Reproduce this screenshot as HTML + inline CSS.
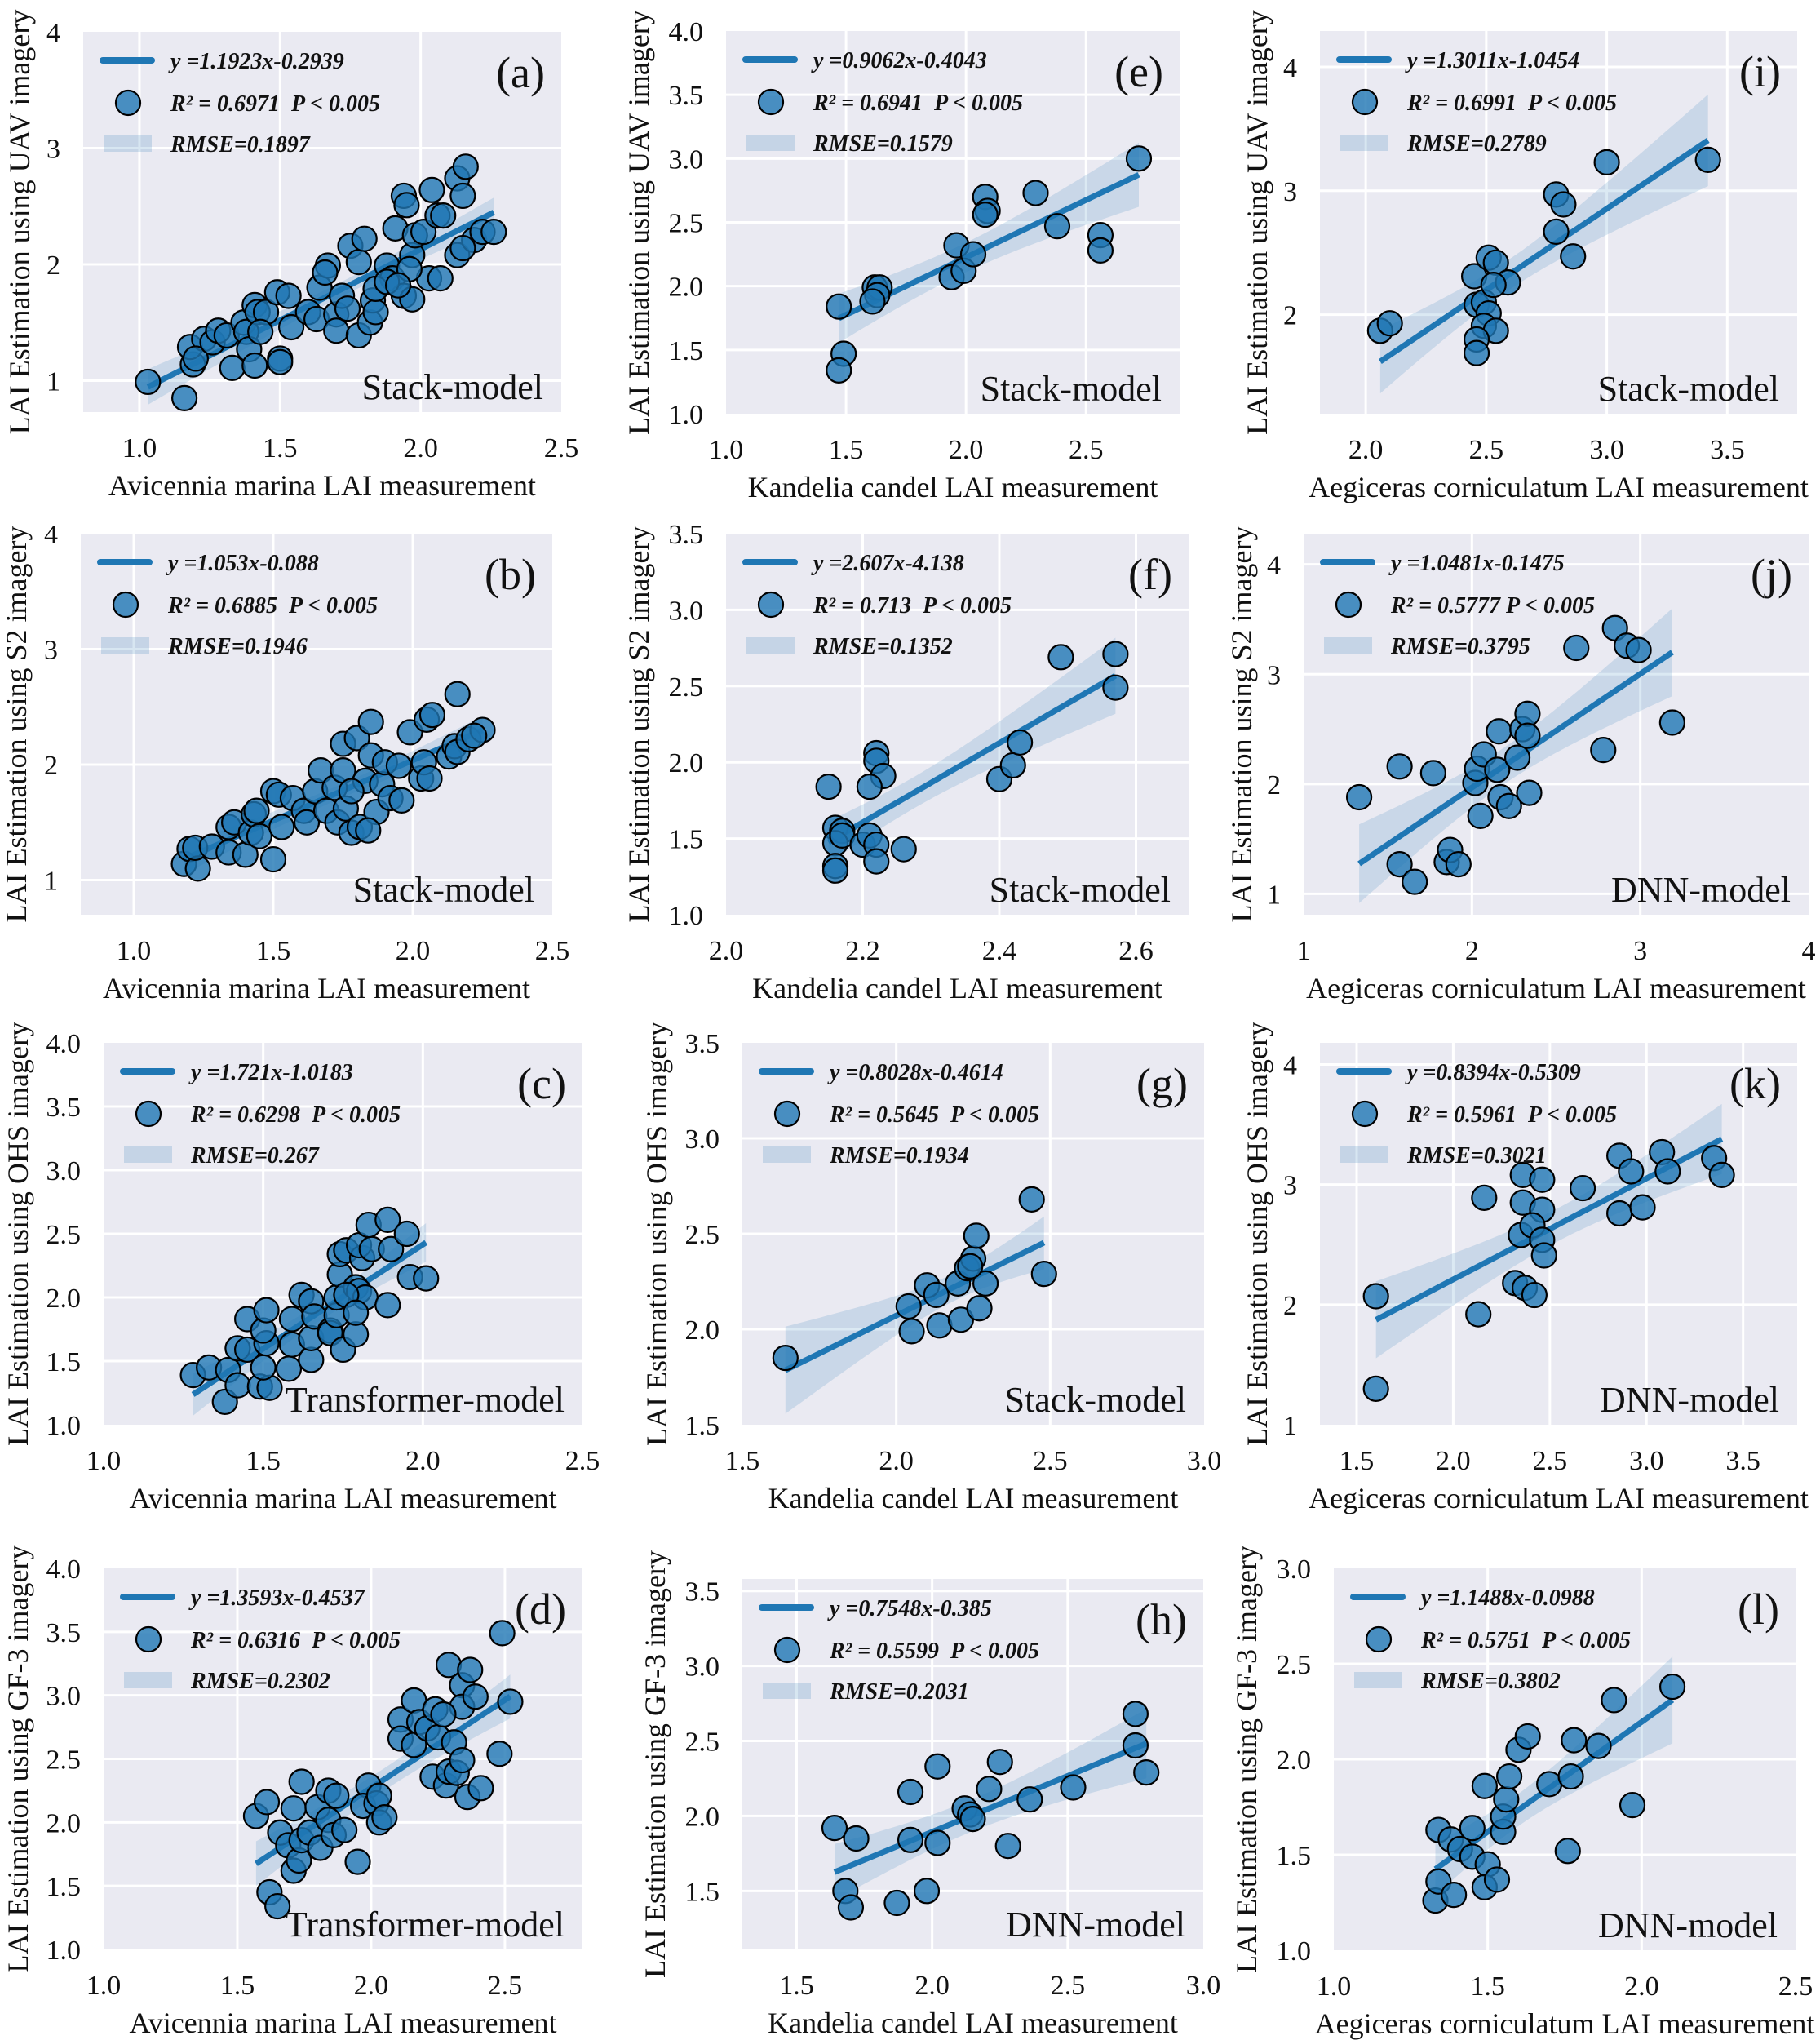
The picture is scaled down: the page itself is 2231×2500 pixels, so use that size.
<!DOCTYPE html>
<html><head><meta charset="utf-8"><title>LAI scatter panels</title>
<style>
html,body{margin:0;padding:0;background:#fff;}
svg{display:block;}
text{font-family:"Liberation Serif","Times New Roman",serif;fill:#111;}
.leg{font-style:italic;font-weight:bold;font-size:28px;white-space:pre;}
</style></head>
<body>
<svg id="chart" xmlns="http://www.w3.org/2000/svg" width="2231" height="2500" viewBox="0 0 2231 2500"></svg>
<script>
// ---- data (measured x, estimated y) ----
const a_x=[1.03,1.16,1.19,1.18,1.23,1.20,1.26,1.28,1.31,1.33,1.37,1.38,1.39,1.41,1.41,1.42,1.45,1.43,1.50,1.50,1.49,1.53,1.54,1.60,1.64,1.63,1.67,1.66,1.70,1.70,1.72,1.74,1.75,1.78,1.78,1.80,1.82,1.83,1.84,1.88,1.90,1.91,1.94,1.95,1.94,1.97,1.97,1.98,2.01,2.03,2.04,2.06,2.07,2.08,2.13,2.13,2.15,2.16,2.19,2.22,2.26,2.15,1.96,1.84,1.88,1.92];
const a_y=[0.99,0.85,1.14,1.29,1.36,1.19,1.33,1.43,1.39,1.11,1.50,1.42,1.27,1.13,1.65,1.59,1.59,1.42,1.19,1.16,1.76,1.73,1.46,1.59,1.80,1.53,1.99,1.93,1.57,1.43,1.73,1.62,2.16,1.39,2.02,2.22,1.50,1.69,1.59,1.99,1.88,2.31,2.59,2.51,1.73,1.70,2.08,2.25,2.28,1.88,2.64,2.42,1.88,2.42,2.08,2.74,2.59,2.84,2.21,2.28,2.28,2.14,1.96,1.79,1.85,1.82];
const e_x=[1.47,1.49,1.47,1.62,1.64,1.63,1.61,1.94,1.96,1.99,2.03,2.08,2.09,2.08,2.29,2.38,2.56,2.56,2.72];
const e_y=[1.84,1.47,1.34,1.99,1.99,1.93,1.88,2.07,2.32,2.12,2.25,2.70,2.59,2.56,2.73,2.47,2.40,2.28,3.00];
const i_x=[2.06,2.10,2.45,2.51,2.54,2.46,2.49,2.51,2.49,2.54,2.46,2.46,2.59,2.53,2.79,2.82,2.79,2.86,3.00,3.42];
const i_y=[1.87,1.93,2.31,2.46,2.42,2.08,2.10,2.01,1.91,1.87,1.80,1.69,2.26,2.24,2.97,2.89,2.67,2.47,3.23,3.25];
const b_x=[1.18,1.20,1.23,1.22,1.28,1.34,1.34,1.36,1.40,1.42,1.43,1.44,1.45,1.50,1.50,1.52,1.53,1.57,1.61,1.62,1.65,1.67,1.69,1.72,1.73,1.75,1.75,1.76,1.78,1.80,1.81,1.83,1.85,1.85,1.87,1.89,1.90,1.92,1.96,1.95,1.99,2.03,2.04,2.05,2.07,2.06,2.13,2.15,2.16,2.16,2.20,2.25,2.22,1.84,1.78];
const b_y=[1.14,1.27,1.10,1.28,1.29,1.24,1.46,1.50,1.22,1.41,1.57,1.60,1.38,1.18,1.77,1.74,1.46,1.71,1.60,1.50,1.77,1.95,1.60,1.80,1.50,1.95,2.18,1.62,1.41,2.23,1.46,1.86,2.37,2.08,1.59,1.83,2.02,1.71,1.69,1.99,2.28,1.88,2.02,2.39,2.43,1.88,2.07,2.16,2.61,2.11,2.22,2.30,2.25,1.43,1.77];
const f_x=[2.15,2.16,2.17,2.16,2.16,2.16,2.17,2.20,2.21,2.22,2.22,2.22,2.22,2.23,2.21,2.26,2.40,2.42,2.43,2.49,2.57,2.57];
const f_y=[1.84,1.57,1.55,1.47,1.32,1.29,1.52,1.46,1.52,1.46,1.35,2.06,2.01,1.91,1.84,1.43,1.89,1.98,2.13,2.69,2.71,2.49];
const j_x=[1.33,1.57,1.57,1.66,1.77,1.85,1.87,1.92,2.02,2.03,2.07,2.05,2.15,2.16,2.17,2.22,2.27,2.30,2.33,2.33,2.34,2.62,2.85,2.92,2.99,2.78,3.19];
const j_y=[1.88,2.16,1.27,1.11,2.10,1.29,1.40,1.27,2.01,2.14,2.27,1.71,2.13,2.48,1.88,1.80,2.24,2.50,2.64,2.44,1.92,3.24,3.42,3.26,3.22,2.31,2.56];
const c_x=[1.28,1.33,1.38,1.39,1.42,1.42,1.45,1.45,1.49,1.52,1.50,1.51,1.50,1.51,1.58,1.59,1.59,1.62,1.65,1.65,1.65,1.66,1.71,1.71,1.73,1.73,1.75,1.74,1.74,1.76,1.79,1.79,1.80,1.81,1.80,1.82,1.84,1.83,1.89,1.89,1.90,1.95,1.96,2.01,1.76,1.79];
const c_y=[1.39,1.45,1.18,1.43,1.31,1.60,1.59,1.83,1.30,1.29,1.45,1.64,1.74,1.90,1.44,1.63,1.83,2.02,1.51,1.68,1.97,1.85,1.74,1.72,1.86,2.00,1.59,2.18,2.34,2.37,1.71,2.08,2.05,2.31,2.41,2.00,2.38,2.57,1.94,2.61,2.38,2.50,2.16,2.15,2.02,1.88];
const g_x=[1.64,2.04,2.05,2.10,2.13,2.14,2.20,2.21,2.23,2.25,2.26,2.27,2.29,2.24,2.44,2.48];
const g_y=[1.85,2.12,1.99,2.23,2.18,2.02,2.24,2.05,2.32,2.37,2.49,2.11,2.24,2.33,2.68,2.29];
const k_x=[1.60,1.60,2.13,2.16,2.32,2.37,2.42,2.35,2.36,2.36,2.46,2.46,2.41,2.46,2.47,2.67,2.86,2.86,2.92,2.98,3.08,3.11,3.35,3.39];
const k_y=[2.07,1.30,1.92,2.89,2.18,2.14,2.08,2.58,2.85,3.08,3.04,2.79,2.66,2.54,2.41,2.97,2.76,3.24,3.11,2.81,3.27,3.11,3.22,3.08];
const d_x=[1.57,1.61,1.62,1.65,1.66,1.69,1.71,1.73,1.71,1.74,1.74,1.77,1.81,1.80,1.84,1.84,1.87,1.86,1.90,1.95,1.99,1.97,2.02,2.03,2.03,2.05,2.11,2.11,2.16,2.16,2.18,2.21,2.23,2.24,2.25,2.28,2.29,2.29,2.31,2.32,2.34,2.34,2.34,2.36,2.37,2.39,2.41,2.48,2.49,2.52,2.27];
const d_y=[2.05,2.16,1.45,1.34,1.92,1.82,1.62,1.70,2.11,2.32,1.86,1.92,1.80,2.12,2.25,2.02,2.21,1.90,1.94,1.69,2.29,2.13,2.15,2.21,2.00,2.04,2.81,2.66,2.96,2.61,2.79,2.74,2.36,2.89,2.67,2.29,3.24,2.40,2.63,2.39,3.08,2.49,2.91,2.20,3.20,2.99,2.27,2.54,3.49,2.95,2.85];
const h_x=[1.64,1.68,1.70,1.72,1.87,1.92,1.92,1.98,2.02,2.02,2.12,2.14,2.15,2.21,2.25,2.28,2.36,2.52,2.75,2.75,2.79];
const h_y=[1.92,1.50,1.39,1.85,1.42,2.16,1.84,1.50,2.33,1.82,2.05,2.01,1.98,2.18,2.36,1.80,2.11,2.19,2.68,2.47,2.29];
const l_x=[1.33,1.34,1.34,1.38,1.39,1.41,1.45,1.45,1.49,1.50,1.49,1.53,1.55,1.55,1.56,1.57,1.60,1.63,1.70,1.76,1.77,1.78,1.86,1.91,1.97,2.10];
const l_y=[1.26,1.63,1.36,1.58,1.29,1.53,1.49,1.64,1.86,1.45,1.33,1.37,1.62,1.70,1.79,1.91,2.05,2.12,1.87,1.52,1.91,2.10,2.07,2.31,1.76,2.38];
// ---- tick labels ----
const a_xt=["1.0","1.5","2.0","2.5"], a_yt=["1","2","3","4"];
const e_xt=["1.0","1.5","2.0","2.5"], e_yt=["1.0","1.5","2.0","2.5","3.0","3.5","4.0"];
const i_xt=["2.0","2.5","3.0","3.5"], i_yt=["2","3","4"];
const b_xt=["1.0","1.5","2.0","2.5"], b_yt=["1","2","3","4"];
const f_xt=["2.0","2.2","2.4","2.6"], f_yt=["1.0","1.5","2.0","2.5","3.0","3.5"];
const j_xt=["1","2","3","4"], j_yt=["1","2","3","4"];
const c_xt=["1.0","1.5","2.0","2.5"], c_yt=["1.0","1.5","2.0","2.5","3.0","3.5","4.0"];
const g_xt=["1.5","2.0","2.5","3.0"], g_yt=["1.5","2.0","2.5","3.0","3.5"];
const k_xt=["1.5","2.0","2.5","3.0","3.5"], k_yt=["1","2","3","4"];
const d_xt=["1.0","1.5","2.0","2.5"], d_yt=["1.0","1.5","2.0","2.5","3.0","3.5","4.0"];
const h_xt=["1.5","2.0","2.5","3.0"], h_yt=["1.5","2.0","2.5","3.0","3.5"];
const l_xt=["1.0","1.5","2.0","2.5"], l_yt=["1.0","1.5","2.0","2.5","3.0"];

const AM="Avicennia marina LAI measurement", KC="Kandelia candel LAI measurement", AC="Aegiceras corniculatum LAI measurement";
const panels=[
 {id:'a',L:102,R:688,T:39,B:505,xd:[0.80,2.5],yd:[0.73,4],xs:a_x,ys:a_y,xt:a_xt,yt:a_yt,ylx:24,xl:AM,yl:'LAI Estimation using UAV imagery',eq:'y =1.1923x-0.2939',r2:'R² = 0.6971  P < 0.005',rm:'RMSE=0.1897',md:'Stack-model'},
 {id:'e',L:890,R:1446,T:38,B:507,xd:[1.0,2.89],yd:[1,4],xs:e_x,ys:e_y,xt:e_xt,yt:e_yt,ylx:783,xl:KC,yl:'LAI Estimation using UAV imagery',eq:'y =0.9062x-0.4043',r2:'R² = 0.6941  P < 0.005',rm:'RMSE=0.1579',md:'Stack-model'},
 {id:'i',L:1618,R:2203,T:38,B:507,xd:[1.81,3.79],yd:[1.20,4.29],xs:i_x,ys:i_y,xt:i_xt,yt:i_yt,ylx:1541,xl:AC,yl:'LAI Estimation using UAV imagery',eq:'y =1.3011x-1.0454',r2:'R² = 0.6991  P < 0.005',rm:'RMSE=0.2789',md:'Stack-model'},
 {id:'b',L:99,R:677,T:654,B:1121,xd:[0.81,2.5],yd:[0.70,4],xs:b_x,ys:b_y,xt:b_xt,yt:b_yt,ylx:20,xl:AM,yl:'LAI Estimation using S2 imagery',eq:'y =1.053x-0.088',r2:'R² = 0.6885  P < 0.005',rm:'RMSE=0.1946',md:'Stack-model'},
 {id:'f',L:890,R:1457,T:654,B:1121,xd:[2.0,2.677],yd:[1,3.5],xs:f_x,ys:f_y,xt:f_xt,yt:f_yt,ylx:783,xl:KC,yl:'LAI Estimation using S2 imagery',eq:'y =2.607x-4.138',r2:'R² = 0.713  P < 0.005',rm:'RMSE=0.1352',md:'Stack-model'},
 {id:'j',L:1598,R:2217,T:654,B:1121,xd:[1,4],yd:[0.81,4.28],xs:j_x,ys:j_y,xt:j_xt,yt:j_yt,ylx:1522,xl:AC,yl:'LAI Estimation using S2 imagery',eq:'y =1.0481x-0.1475',r2:'R² = 0.5777 P < 0.005',rm:'RMSE=0.3795',md:'DNN-model'},
 {id:'c',L:127,R:714,T:1278,B:1746,xd:[1,2.5],yd:[1,4],xs:c_x,ys:c_y,xt:c_xt,yt:c_yt,ylx:22,xl:AM,yl:'LAI Estimation using OHS imagery',eq:'y =1.721x-1.0183',r2:'R² = 0.6298  P < 0.005',rm:'RMSE=0.267',md:'Transformer-model'},
 {id:'g',L:910,R:1476,T:1278,B:1746,xd:[1.5,3.0],yd:[1.5,3.5],xs:g_x,ys:g_y,xt:g_xt,yt:g_yt,ylx:805,xl:KC,yl:'LAI Estimation using OHS imagery',eq:'y =0.8028x-0.4614',r2:'R² = 0.5645  P < 0.005',rm:'RMSE=0.1934',md:'Stack-model'},
 {id:'k',L:1618,R:2203,T:1278,B:1746,xd:[1.31,3.78],yd:[1,4.18],xs:k_x,ys:k_y,xt:k_xt,yt:k_yt,ylx:1541,xl:AC,yl:'LAI Estimation using OHS imagery',eq:'y =0.8394x-0.5309',r2:'R² = 0.5961  P < 0.005',rm:'RMSE=0.3021',md:'DNN-model'},
 {id:'d',L:127,R:714,T:1922,B:2389,xd:[1,2.79],yd:[1,4],xs:d_x,ys:d_y,xt:d_xt,yt:d_yt,ylx:22,xl:AM,yl:'LAI Estimation using GF-3 imagery',eq:'y =1.3593x-0.4537',r2:'R² = 0.6316  P < 0.005',rm:'RMSE=0.2302',md:'Transformer-model'},
 {id:'h',L:910,R:1475,T:1935,B:2389,xd:[1.30,3.0],yd:[1.11,3.58],xs:h_x,ys:h_y,xt:h_xt,yt:h_yt,ylx:803,xl:KC,yl:'LAI Estimation using GF-3 imagery',eq:'y =0.7548x-0.385',r2:'R² = 0.5599  P < 0.005',rm:'RMSE=0.2031',md:'DNN-model'},
 {id:'l',L:1635,R:2201,T:1922,B:2390,xd:[1,2.5],yd:[1,3.0],xs:l_x,ys:l_y,xt:l_xt,yt:l_yt,ylx:1528,xl:AC,yl:'LAI Estimation using GF-3 imagery',eq:'y =1.1488x-0.0988',r2:'R² = 0.5751  P < 0.005',rm:'RMSE=0.3802',md:'DNN-model'}
];

const NS='http://www.w3.org/2000/svg';
const svg=document.getElementById('chart');
const defs=document.createElementNS(NS,'defs');
svg.appendChild(defs);
function mk(tag,attrs,parent){const e=document.createElementNS(NS,tag);for(const k in attrs)e.setAttribute(k,attrs[k]);(parent||svg).appendChild(e);return e;}
const BLUE='#1f77b4';

panels.forEach(p=>{
  const sx=v=>p.L+(v-p.xd[0])/(p.xd[1]-p.xd[0])*(p.R-p.L);
  const sy=v=>p.B-(v-p.yd[0])/(p.yd[1]-p.yd[0])*(p.B-p.T);
  const g=mk('g',{});
  
  
  const cp=mk('clipPath',{id:'clip-'+p.id},defs);
  mk('rect',{x:p.L,y:p.T,width:p.R-p.L,height:p.B-p.T},cp);
  const bg=mk('rect',{x:p.L,y:p.T,width:p.R-p.L,height:p.B-p.T,fill:'#eaeaf2'},g);
  
  
  // grid + ticks
  p.xt.forEach(t=>{const v=parseFloat(t);const x=sx(v);
    if(x>p.L+1&&x<p.R-1){const gl=mk('line',{x1:x,x2:x,y1:p.T,y2:p.B,stroke:'#fff','stroke-width':3},g);
      
      }
    const tl=mk('text',{x:x,y:p.B+55,'text-anchor':'middle','font-size':34},g);tl.textContent=t;
    
    
  });
  p.yt.forEach(t=>{const v=parseFloat(t);const y=sy(v);
    if(y>p.T+1&&y<p.B-1){const gl=mk('line',{x1:p.L,x2:p.R,y1:y,y2:y,stroke:'#fff','stroke-width':3},g);
      
      }
    const tl=mk('text',{x:p.L-28,y:y+12,'text-anchor':'end','font-size':34},g);tl.textContent=t;
    
    
  });
  // regression (OLS) + 95% CI band
  const n=p.xs.length;let mx=0,my=0;p.xs.forEach((v,k)=>{mx+=v;my+=p.ys[k];});mx/=n;my/=n;
  let sxx=0,sxy=0;p.xs.forEach((v,k)=>{sxx+=(v-mx)*(v-mx);sxy+=(v-mx)*(p.ys[k]-my);});
  const slope=sxy/sxx, icpt=my-slope*mx;
  let sse=0;p.xs.forEach((v,k)=>{const r=p.ys[k]-(icpt+slope*v);sse+=r*r;});
  const s=Math.sqrt(sse/(n-2));
  const x0=Math.min(...p.xs), x1=Math.max(...p.xs);
  const up=[],lo=[];
  for(let k=0;k<=30;k++){const xv=x0+(x1-x0)*k/30;const yv=icpt+slope*xv;const hw=2.05*s*Math.sqrt(1/n+(xv-mx)*(xv-mx)/sxx);
    up.push(sx(xv).toFixed(1)+','+sy(yv+hw).toFixed(1));lo.unshift(sx(xv).toFixed(1)+','+sy(yv-hw).toFixed(1));}
  const cg=mk('g',{'clip-path':'url(#clip-'+p.id+')'},g);
  const band=mk('polygon',{points:up.concat(lo).join(' '),fill:BLUE,'fill-opacity':0.16},cg);
  
  
  const rl=mk('line',{x1:sx(x0),y1:sy(icpt+slope*x0),x2:sx(x1),y2:sy(icpt+slope*x1),stroke:BLUE,'stroke-width':7},cg);
  
  
  p.xs.forEach((v,k)=>{
    const c=mk('circle',{cx:sx(v),cy:sy(p.ys[k]),r:15,fill:BLUE,'fill-opacity':0.8,stroke:'#000','stroke-width':2.2},cg);
    
    
  });
  // legend
  const lg=mk('g',{},g);
  
  
  const ll=mk('line',{x1:p.L+24,x2:p.L+84,y1:p.T+35,y2:p.T+35,stroke:BLUE,'stroke-width':8,'stroke-linecap':'round'},lg);
  
  
  const lc=mk('circle',{cx:p.L+55,cy:p.T+87,r:15,fill:BLUE,'fill-opacity':0.8,stroke:'#000','stroke-width':2.2},lg);
  
  
  const lb=mk('rect',{x:p.L+25,y:p.T+127,width:59,height:20,fill:BLUE,'fill-opacity':0.18},lg);
  
  
  [[p.eq,35],[p.r2,87],[p.rm,137]].forEach(([t,dy],k)=>{
    const tx=mk('text',{x:p.L+107,y:p.T+dy+10,class:'leg'},lg);tx.textContent=t;
    
    
  });
  const pl=mk('text',{x:p.R-20,y:p.T+68,'text-anchor':'end','font-size':54},g);pl.textContent='('+p.id+')';
  
  
  const md=mk('text',{x:p.R-22,y:p.B-16,'text-anchor':'end','font-size':44},g);md.textContent=p.md;
  
  
  const xl=mk('text',{x:(p.L+p.R)/2,y:p.B+102,'text-anchor':'middle','font-size':36},g);xl.textContent=p.xl;
  
  
  const yc=(p.T+p.B)/2;
  const yl=mk('text',{x:p.ylx,y:yc,'text-anchor':'middle','dominant-baseline':'central','font-size':36,transform:'rotate(-90 '+p.ylx+' '+yc+')'},g);yl.textContent=p.yl;
  
  
});
</script>
</body></html>
